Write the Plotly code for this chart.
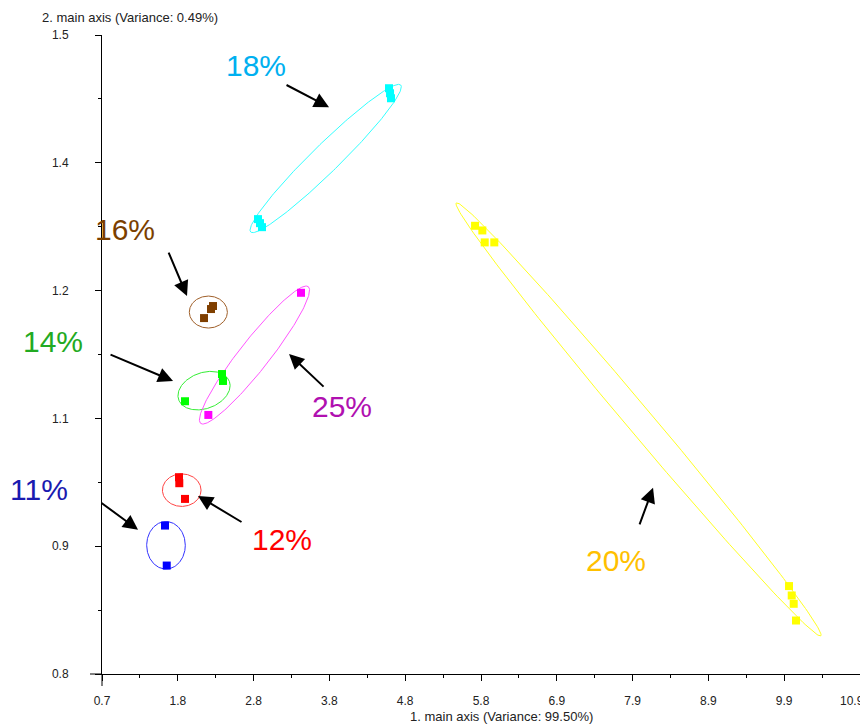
import numpy as np
import plotly.graph_objects as go

# ---------------- data ----------------
groups = ["18%", "16%", "14%", "25%", "11%", "12%", "20%"]

pts_x = {
    "18%": [2.799, 2.826, 2.853, 4.562, 4.576, 4.589],
    "16%": [2.073, 2.167, 2.194],
    "14%": [2.315, 2.328, 1.817],
    "25%": [3.378, 2.131],
    "11%": [1.548, 1.571],
    "12%": [1.736, 1.740, 1.817],
    "20%": [5.720, 5.818, 5.850, 5.979, 9.945, 9.981, 10.008, 10.039],
}
pts_y = {
    "18%": [1.2983, 1.2939, 1.2895, 1.4417, 1.4362, 1.4307],
    "16%": [1.1899, 1.1998, 1.2031],
    "14%": [1.1286, 1.1210, 1.0988],
    "25%": [1.2176, 1.0838],
    "11%": [0.9626, 0.9188],
    "12%": [1.0156, 1.0090, 0.9918],
    "20%": [1.2910, 1.2859, 1.2728, 1.2728, 0.8963, 0.8860, 0.8769, 0.8586],
}

# ellipse parameters: centre (data), semi-axes (x-units), rotation (deg, screen)
ell_cx = {"18%": 3.710, "16%": 2.131, "14%": 2.073, "25%": 2.752, "11%": 1.561, "12%": 1.773, "20%": 7.920}
ell_cy = {"18%": 1.3647, "16%": 1.1965, "14%": 1.1104, "25%": 1.1494, "11%": 0.9410, "12%": 1.0014, "20%": 1.0789}
ell_a = {"18%": 1.413, "16%": 0.256, "14%": 0.363, "25%": 1.171, "11%": 0.260, "12%": 0.260, "20%": 3.808}
ell_b = {"18%": 0.188, "16%": 0.215, "14%": 0.242, "25%": 0.202, "11%": 0.320, "12%": 0.219, "20%": 0.175}
ell_ang = {"18%": 44.4, "16%": 0.0, "14%": 20.0, "25%": 51.8, "11%": 0.0, "12%": 0.0, "20%": -49.9}

# label positions and arrow heads
label_x = {"18%": 2.772, "16%": 1.010, "25%": 3.930, "12%": 3.118, "20%": 7.621}
label_y = {"18%": 1.4665, "16%": 1.2873, "25%": 1.0925, "12%": 0.9475, "20%": 0.9245}
label_px = {"14%": -0.0646, "11%": -0.0827}
label_py = {"14%": 0.5196, "11%": 0.288}

arrow_x = {"18%": 3.755, "16%": 1.844, "14%": 1.656, "25%": 3.217, "11%": 1.185, "12%": 1.992, "20%": 8.115}
arrow_y = {"18%": 1.4209, "16%": 1.2140, "14%": 1.1210, "25%": 1.1505, "11%": 0.9579, "12%": 0.9951, "20%": 1.0039}
arrow_ax = {"18%": -44, "16%": -19, "14%": -64, "25%": 36, "11%": -38, "12%": 45, "20%": -14}
arrow_ay = {"18%": -23, "16%": -45, "14%": -27, "25%": 34, "11%": -28, "12%": 27, "20%": 38}

x_tickvals = [0.7, 1.72, 2.74, 3.76, 4.78, 5.8, 6.82, 7.84, 8.86, 9.88, 10.9]
x_ticktext = ["0.7", "1.8", "2.8", "3.8", "4.8", "5.8", "6.9", "7.9", "8.9", "9.9", "10.9"]
y_tickvals = [0.8, 0.94, 1.08, 1.22, 1.36, 1.5]
y_ticktext = ["0.8", "0.9", "1.1", "1.2", "1.4", "1.5"]

x_title = "1. main axis (Variance: 99.50%)"
y_title = "2. main axis (Variance: 0.49%)"

# ---------------- styles ----------------
marker_col = {"18%": "#00FFFF", "16%": "#7F3F00", "14%": "#00FF00", "25%": "#FF00FF",
              "11%": "#0000FF", "12%": "#FF0000", "20%": "#FFFF00"}
ell_col = {"18%": "#33FFFF", "16%": "#A0602A", "14%": "#33EE33", "25%": "#FF55FF",
           "11%": "#3333FF", "12%": "#FF4444", "20%": "#FFFF22"}
label_col = {"18%": "#00B0F0", "16%": "#7B3F00", "14%": "#22AA22", "25%": "#B010B0",
             "11%": "#1A1AB0", "12%": "#FF0000", "20%": "#FFC000"}

# the page body adds an 8px offset, so margins are shifted accordingly
W, H = 868, 716
ML, MR, MT, MB = 94, 16, 27, 50
XR = [0.7, 10.9]
YR = [0.8, 1.5]
pw, ph = W - ML - MR, H - MT - MB
K = (ph / (YR[1] - YR[0])) / (pw / (XR[1] - XR[0]))

fig = go.Figure()
t = np.linspace(0, 2 * np.pi, 241)
for g in groups:
    th = np.deg2rad(ell_ang[g])
    ux = ell_a[g] * np.cos(t) * np.cos(th) - ell_b[g] * np.sin(t) * np.sin(th)
    uy = ell_a[g] * np.cos(t) * np.sin(th) + ell_b[g] * np.sin(t) * np.cos(th)
    fig.add_trace(go.Scatter(x=ell_cx[g] + ux, y=ell_cy[g] + uy / K, mode="lines",
                             line=dict(color=ell_col[g], width=1), hoverinfo="skip",
                             showlegend=False))
for g in groups:
    fig.add_trace(go.Scatter(x=pts_x[g], y=pts_y[g], mode="markers", name=g,
                             marker=dict(symbol="square", size=8, color=marker_col[g],
                                         line=dict(width=0)),
                             showlegend=False))

annots = []
for g in groups:
    annots.append(dict(x=arrow_x[g], y=arrow_y[g], xref="x", yref="y", text="",
                       showarrow=True, ax=arrow_ax[g], ay=arrow_ay[g],
                       arrowhead=2, arrowsize=1.5, arrowwidth=2, arrowcolor="black",
                       standoff=0, startstandoff=0))
for g in groups:
    font = dict(family="Liberation Sans, Arial, sans-serif", size=30, color=label_col[g])
    if g in label_x:
        annots.append(dict(x=label_x[g], y=label_y[g], xref="x", yref="y", text=g,
                           showarrow=False, font=font, xanchor="center", yanchor="middle"))
    else:
        annots.append(dict(x=label_px[g], y=label_py[g], xref="paper", yref="paper", text=g,
                           showarrow=False, font=font, xanchor="center", yanchor="middle"))

tfont = dict(family="Liberation Sans, Arial, sans-serif", size=13, color="#222")
annots.append(dict(x=-62 / pw, y=1 + MT / ph, xref="paper", yref="paper", text=y_title,
                   showarrow=False, font=tfont, xanchor="left", yanchor="top"))
annots.append(dict(x=(501 - 102) / pw, y=-42 / ph, xref="paper", yref="paper", text=x_title,
                   showarrow=False, font=tfont, xanchor="center", yanchor="middle"))

tickfont = dict(family="Liberation Sans, Arial, sans-serif", size=12, color="#222")
# last x tick label sits at the window edge: draw it right-aligned so it stays visible
annots.append(dict(x=x_tickvals[-1], y=-27 / ph, xref="x", yref="paper", text=x_ticktext[-1],
                   showarrow=False, font=tickfont, xanchor="right", yanchor="middle", xshift=6))

axis_common = dict(showline=True, linecolor="black", linewidth=1, showgrid=False,
                   zeroline=False, ticks="outside", ticklen=6, tickwidth=1,
                   tickcolor="black", tickfont=tickfont, automargin=False)
fig.update_xaxes(range=XR, tickmode="array", tickvals=x_tickvals,
                 ticktext=x_ticktext[:-1] + [""],
                 minor=dict(tickvals=[(a + b) / 2 for a, b in zip(x_tickvals[:-1], x_tickvals[1:])],
                            ticks="outside", ticklen=3, tickcolor="black"),
                 ticklabelstandoff=10, **axis_common)
fig.update_yaxes(range=YR, tickmode="array", tickvals=y_tickvals, ticktext=y_ticktext,
                 minor=dict(tickvals=[(a + b) / 2 for a, b in zip(y_tickvals[:-1], y_tickvals[1:])],
                            ticks="outside", ticklen=3, tickcolor="black"),
                 ticklabelstandoff=24, **axis_common)

fig.update_layout(width=W, height=H,
                  margin=dict(l=ML, r=MR, t=MT, b=MB, autoexpand=False),
                  plot_bgcolor="white", paper_bgcolor="white", annotations=annots,
                  shapes=[dict(type="line", xref="paper", yref="paper", x0=-12 / pw, x1=0,
                               y0=0, y1=0, line=dict(color="black", width=1)),
                          dict(type="line", xref="paper", yref="paper", x0=0, x1=0,
                               y0=-12 / ph, y1=0, line=dict(color="black", width=1))])

fig.write_html("out.html")
